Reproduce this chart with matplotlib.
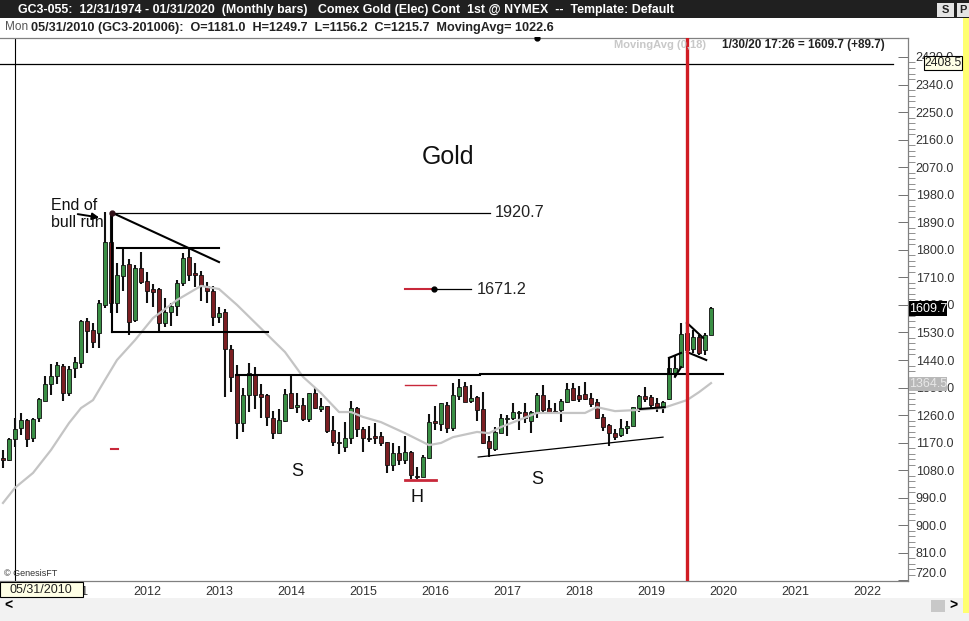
import numpy as np
import matplotlib
matplotlib.use('Agg')
import matplotlib.pyplot as plt
from matplotlib.patches import Rectangle

plt.rcParams['font.family'] = ['Liberation Sans', 'DejaVu Sans']

# monthly candles, first one is Mar 2010, last one Jan 2020
opens = [1120, 1113, 1181, 1218, 1244, 1185, 1250, 1306, 1362, 1388,
         1420, 1332, 1414, 1430, 1568, 1538, 1528, 1620, 1826, 1626,
         1714, 1754, 1571, 1741, 1698, 1672, 1672, 1561, 1597, 1617,
         1692, 1777, 1724, 1718, 1682, 1665, 1581, 1597, 1476, 1391,
         1234, 1326, 1391, 1329, 1326, 1250, 1201, 1241, 1332, 1286,
         1293, 1247, 1332, 1280, 1290, 1211, 1172, 1156, 1185, 1283,
         1215, 1185, 1192, 1192, 1172, 1097, 1136, 1113, 1139, 1061,
         1058, 1120, 1241, 1231, 1293, 1218, 1322, 1355, 1306, 1319,
         1280, 1175, 1149, 1201, 1247, 1250, 1267, 1270, 1241, 1267,
         1326, 1283, 1273, 1277, 1303, 1349, 1326, 1329, 1316, 1303,
         1254, 1228, 1201, 1195, 1218, 1224, 1283, 1322, 1319, 1300,
         1286, 1313, 1398, 1417, 1528, 1476, 1515, 1473, 1522]
highs = [1146, 1185, 1249.7, 1267, 1247, 1250, 1316, 1388, 1427, 1433,
         1427, 1420, 1450, 1571, 1577, 1561, 1636, 1924, 1921, 1757,
         1806, 1770, 1750, 1793, 1728, 1688, 1675, 1643, 1626, 1701,
         1790, 1806, 1757, 1731, 1695, 1682, 1613, 1607, 1489, 1424,
         1349, 1430, 1417, 1362, 1329, 1273, 1280, 1345, 1391, 1332,
         1316, 1332, 1349, 1316, 1290, 1257, 1205, 1237, 1306, 1286,
         1221, 1224, 1234, 1205, 1172, 1169, 1159, 1192, 1143, 1090,
         1130, 1264, 1290, 1300, 1303, 1365, 1378, 1368, 1358, 1322,
         1335, 1192, 1221, 1264, 1260, 1300, 1273, 1300, 1273, 1332,
         1358, 1309, 1300, 1313, 1365, 1365, 1355, 1368, 1332, 1313,
         1264, 1231, 1215, 1247, 1241, 1286, 1326, 1352, 1326, 1316,
         1306, 1447, 1456, 1561, 1564, 1538, 1522, 1528, 1613]
lows = [1087, 1110, 1156.2, 1195, 1156, 1172, 1237, 1306, 1326, 1362,
        1306, 1322, 1381, 1414, 1463, 1479, 1479, 1610, 1594, 1594,
        1665, 1522, 1564, 1688, 1626, 1613, 1528, 1548, 1551, 1584,
        1682, 1698, 1678, 1633, 1626, 1551, 1561, 1319, 1335, 1182,
        1205, 1270, 1280, 1250, 1224, 1182, 1201, 1237, 1280, 1267,
        1241, 1237, 1280, 1270, 1201, 1159, 1133, 1139, 1165, 1188,
        1139, 1172, 1165, 1159, 1071, 1077, 1097, 1100, 1051, 1051,
        1058, 1117, 1211, 1208, 1201, 1208, 1309, 1303, 1300, 1241,
        1165, 1123, 1143, 1201, 1192, 1244, 1211, 1234, 1201, 1250,
        1270, 1267, 1264, 1237, 1300, 1306, 1303, 1309, 1286, 1247,
        1208, 1159, 1179, 1188, 1198, 1224, 1270, 1303, 1280, 1270,
        1267, 1309, 1385, 1417, 1463, 1463, 1456, 1456, 1522]
closes = [1113, 1182, 1215.7, 1244, 1182, 1247, 1313, 1362, 1388, 1424,
          1332, 1411, 1433, 1568, 1535, 1499, 1626, 1826, 1626, 1718,
          1750, 1564, 1741, 1695, 1665, 1662, 1561, 1597, 1617, 1692,
          1773, 1718, 1718, 1682, 1665, 1581, 1594, 1476, 1385, 1234,
          1326, 1398, 1326, 1319, 1254, 1201, 1244, 1329, 1283, 1293,
          1247, 1332, 1283, 1290, 1208, 1172, 1169, 1185, 1283, 1215,
          1185, 1182, 1185, 1169, 1097, 1136, 1113, 1139, 1064, 1058,
          1123, 1237, 1234, 1300, 1218, 1326, 1352, 1303, 1316, 1277,
          1169, 1152, 1205, 1250, 1250, 1270, 1270, 1250, 1270, 1326,
          1277, 1270, 1267, 1306, 1345, 1309, 1313, 1313, 1296, 1250,
          1221, 1201, 1188, 1218, 1224, 1286, 1322, 1313, 1293, 1286,
          1303, 1414, 1414, 1525, 1473, 1515, 1463, 1522, 1609.7]

# moving average, read at these months
ma_months = [0, 2, 5, 8, 11, 13, 15, 17, 19, 22, 25, 29, 33, 36, 39, 47, 50, 53, 56,
             58, 60, 63, 67, 71, 73, 75, 79, 81, 83, 86, 89, 93, 97, 99, 102, 106,
             110, 114, 116, 118]
ma_values = [973, 1022.6, 1071, 1146, 1234, 1283, 1309, 1375, 1440, 1505, 1577, 1636,
             1682, 1672, 1620, 1466, 1385, 1332, 1270, 1270, 1254, 1237, 1201, 1162,
             1169, 1188, 1205, 1201, 1221, 1244, 1267, 1267, 1267, 1286, 1273, 1277,
             1283, 1309, 1335, 1364.5]

price_ticks = list(range(720, 2431, 90))
year_labels = [str(y) for y in range(2011, 2023)]
year_months = [10 + 12 * k for k in range(12)]

# hand drawn lines on the chart: month0, price0, month1, price1
thick_lines = [(18.2, 1921, 18.2, 1532), (19, 1806, 36, 1806), (18.2, 1921, 36, 1760),
               (18.2, 1532, 44.2, 1532), (38.8, 1391, 79.5, 1391), (79.5, 1394, 120, 1394),
               (106.2, 1280, 110.3, 1286), (111, 1447, 113, 1463), (112, 1385, 113, 1417),
               (114, 1561, 116.7, 1512), (114, 1466, 117.2, 1440), (114, 1561, 114, 1466),
               (111, 1447, 111, 1400)]
thin_lines = [(18.2, 1920.7, 81.2, 1920.7), (72, 1671.2, 78, 1671.2),
              (79.2, 1123, 110, 1188)]
red_lines = [(67, 1671.2, 72, 1671.2, 1.5), (67, 1358, 72.2, 1358, 1.0),
             (18, 1149, 19.2, 1149, 1.5), (67, 1048, 72.2, 1048, 2.0)]

GREEN = '#3a8f45'
RED = '#7b1e22'
W, H = 969, 621


def fx(x):
    return x / W


def fy(y):
    return 1 - y / H


def box(fig, x0, y0, x1, y1, color, edge='none', z=1):
    fig.add_artist(Rectangle((fx(x0), fy(y1)), (x1 - x0) / W, (y1 - y0) / H,
                             transform=fig.transFigure, facecolor=color,
                             edgecolor=edge, linewidth=0.8, zorder=z))


fig = plt.figure(figsize=(W / 100, H / 100), dpi=100, facecolor='white')

# plot area runs from x=0 to 908 and y=38 to 581
ax = fig.add_axes([0, fy(581), 908 / W, (581 - 38) / H])
ax.set_xlim(-0.5, 150.83)
ax.set_ylim(718, 2492)

months = np.arange(len(opens))
o = np.array(opens, dtype=float)
c = np.array(closes, dtype=float)
colors = [GREEN if c[i] >= o[i] else RED for i in months]

ax.vlines(months, lows, highs, color='#101010', linewidth=1.5, zorder=2)
ax.bar(months, np.abs(c - o), bottom=np.minimum(o, c), width=0.82, color=colors,
       edgecolor='#101010', linewidth=0.6, zorder=3)

ax.plot(ma_months, ma_values, color='#c4c4c4', linewidth=1.6, zorder=4)

for m0, p0, m1, p1 in thick_lines:
    ax.plot([m0, m1], [p0, p1], color='black', linewidth=1.5, zorder=5)
for m0, p0, m1, p1 in thin_lines:
    ax.plot([m0, m1], [p0, p1], color='black', linewidth=0.9, zorder=5)
for m0, p0, m1, p1, lw in red_lines:
    ax.plot([m0, m1], [p0, p1], color='#c8283a', linewidth=lw, zorder=5)

ax.plot([71.8], [1671.2], 'o', color='black', markersize=3.5, zorder=6)
ax.plot([18.2], [1921], 'o', color='#301018', markersize=3.5, zorder=6)
ax.plot([89], [2492], 'o', color='black', markersize=3.5, zorder=6, clip_on=False)

# cursor lines and the red marker
ax.axvline(2, color='black', linewidth=0.8, zorder=1)
ax.axhline(2408.5, xmax=0.983, color='black', linewidth=0.9, zorder=1)
ax.axvline(114, color='#d01c24', linewidth=2.4, zorder=7)

ax.text(74.2, 2103, 'Gold', fontsize=18, color='#111111', ha='center', va='center')
ax.text(8, 1946, 'End of', fontsize=11.5, color='#111111', va='center')
ax.text(8, 1889, 'bull run', fontsize=11.5, color='#111111', va='center')
ax.annotate('', xy=(16.5, 1904), xytext=(12, 1918),
            arrowprops=dict(arrowstyle='-|>', color='black', lw=1.4))
ax.text(82, 1920.7, '1920.7', fontsize=11.7, color='#222222', va='center')
ax.text(79, 1671.2, '1671.2', fontsize=11.7, color='#222222', va='center')
ax.text(49, 1077, 'S', fontsize=13, color='#111111', ha='center', va='center')
ax.text(89, 1051, 'S', fontsize=13, color='#111111', ha='center', va='center')
ax.text(69, 990, 'H', fontsize=13, color='#111111', ha='center', va='center')

# axes
for side in ['left']:
    ax.spines[side].set_visible(False)
for side in ['top', 'right', 'bottom']:
    ax.spines[side].set_color('#808080')
    ax.spines[side].set_linewidth(0.9)

ax.yaxis.tick_right()
ax.set_yticks(price_ticks)
ax.set_yticklabels([f'{p:.1f}' for p in price_ticks], fontsize=9, color='#333333')
ax.set_yticks([p for p in range(720, 2431, 18) if p % 90 != 0], minor=True)
ax.tick_params(axis='y', which='major', direction='in', length=7.5, width=0.7,
               color='#707070', pad=5.5)
ax.tick_params(axis='y', which='minor', direction='out', length=5, width=0.7, color='#909090')
ax.get_yticklabels()[0].set_verticalalignment('bottom')

ax.set_xticks([m - 0.3 for m in year_months])
ax.set_xticklabels(year_labels, fontsize=9, color='#333333', ha='left')
ax.tick_params(axis='x', length=0, pad=3.5)

# window parts around the chart
box(fig, 0, 0, W, 18, '#202020')
box(fig, 0, 18, W, 37, 'white')
box(fig, 0, 598, W, H, '#f2f2f2')
box(fig, 963, 18, W, 613, '#ffff70')
box(fig, 937, 3, 954, 17, '#e4e4e4')
box(fig, 957, 3, W, 17, '#e4e4e4')
box(fig, 931, 600, 945, 612, '#c8c8c8')

fig.text(fx(18), fy(9.5), 'GC3-055:  12/31/1974 - 01/31/2020  (Monthly bars)   Comex Gold (Elec) Cont  1st @ NYMEX  --  Template: Default',
         fontsize=8.95, color='white', va='center', fontweight='bold', zorder=5)
fig.text(fx(945.5), fy(10), 'S', fontsize=8, color='#222222', ha='center', va='center', fontweight='bold', zorder=5)
fig.text(fx(963), fy(10), 'P', fontsize=8, color='#222222', ha='center', va='center', fontweight='bold', zorder=5)
fig.text(fx(5), fy(27.5), 'Mon', fontsize=8.5, color='#555555', va='center', zorder=5)
fig.text(fx(31), fy(27.5), '05/31/2010 (GC3-201006):  O=1181.0  H=1249.7  L=1156.2  C=1215.7  MovingAvg= 1022.6',
         fontsize=9.08, color='#222222', va='center', fontweight='bold', zorder=5)

fig.text(fx(614), fy(45), 'MovingAvg (0,18)', fontsize=8, color='#c8c8c8', va='center', fontweight='bold', zorder=5)
fig.text(fx(722), fy(45), '1/30/20 17:26 = 1609.7 (+89.7)', fontsize=8.5, color='#222222', va='center', fontweight='bold', zorder=8)
fig.text(fx(4), fy(574), '© GenesisFT', fontsize=6.5, color='#333333', va='center', zorder=5)
fig.text(fx(8), fy(606), '<', fontsize=10, color='black', ha='center', va='center', fontweight='bold', zorder=5)
fig.text(fx(953), fy(606), '>', fontsize=10, color='black', ha='center', va='center', fontweight='bold', zorder=5)

# value flags on the price scale
box(fig, 909, 301, 947, 316, 'black', z=6)
fig.text(fx(928), fy(308.5), '1609.7', fontsize=9, color='white', ha='center', va='center', zorder=7)
box(fig, 909, 377, 947, 391, '#b8b8b8', z=6)
fig.text(fx(928), fy(384), '1364.5', fontsize=9, color='#e8e8e8', ha='center', va='center', zorder=7)
box(fig, 924, 56, 962, 70, '#ffffe6', edge='black', z=6)
fig.text(fx(943), fy(63), '2408.5', fontsize=8.8, color='#222222', ha='center', va='center', zorder=7)
box(fig, 0, 582, 83, 597, '#ffffe6', edge='black', z=6)
fig.text(fx(41), fy(590), '05/31/2010', fontsize=9, color='#222222', ha='center', va='center', zorder=7)

fig.savefig('out.png', dpi=100)
